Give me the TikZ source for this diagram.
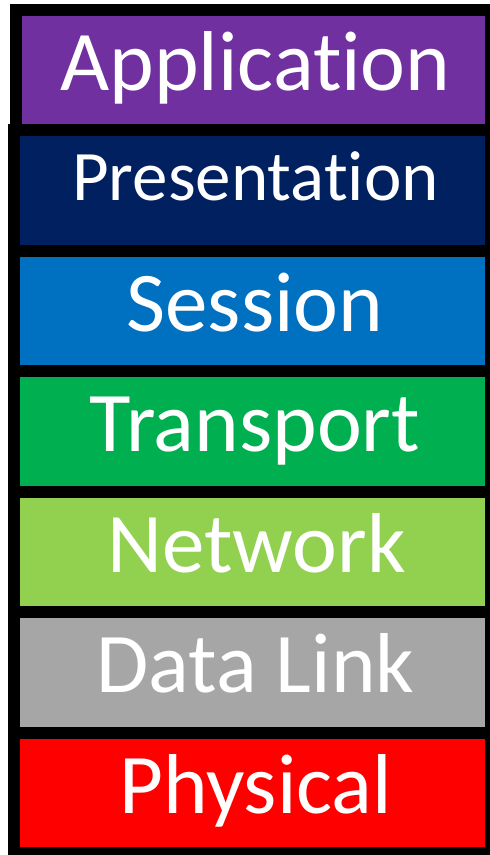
\documentclass[tikz,border=0pt]{standalone}
\usepackage{fontspec}
\setmainfont{Carlito}[Ligatures=NoCommon]
\usepackage{tikz}
\usetikzlibrary{positioning}

\definecolor{appcol}{HTML}{7030A0}
\definecolor{prescol}{HTML}{002060}
\definecolor{sesscol}{HTML}{0070C0}
\definecolor{transcol}{HTML}{00B050}
\definecolor{netcol}{HTML}{92D050}
\definecolor{linkcol}{HTML}{A6A6A6}
\definecolor{physcol}{HTML}{FF0000}

\begin{document}
\begin{tikzpicture}[
    layer/.style={rectangle, draw=black, line width=12pt, outer sep=0pt, inner sep=0pt, minimum width=477pt, minimum height=120.5pt, text=white, text height=40pt, text depth=0pt, font=\fontsize{85}{85}\selectfont},
    node distance=0pt
]
\useasboundingbox (0pt,0pt) rectangle (490pt,-855pt);

% OSI stack, top to bottom (kern keeps t and i apart)
\node[layer, fill=appcol, minimum width=475pt] (app) at (253.5pt,-70pt) {\hspace*{4pt}Applicat\kern0pt ion};
\node[layer, fill=prescol, below=of app, xshift=-1pt, text height=19pt, font=\fontsize{71}{71}\selectfont] (pres) {\hspace*{6pt}Presentat\kern0pt ion};
\node[layer, fill=sesscol, below=of pres] (sess) {\hspace*{5pt}Session};
\node[layer, fill=transcol, below=of sess] (trans) {\hspace*{5pt}Transport};
\node[layer, fill=netcol, below=of trans] (net) {\hspace*{8pt}Network};
\node[layer, fill=linkcol, below=of net] (link) {\hspace*{6pt}Data Link};
\node[layer, fill=physcol, below=of link] (phys) {\hspace*{6pt}Physical};

\end{tikzpicture}
\end{document}
